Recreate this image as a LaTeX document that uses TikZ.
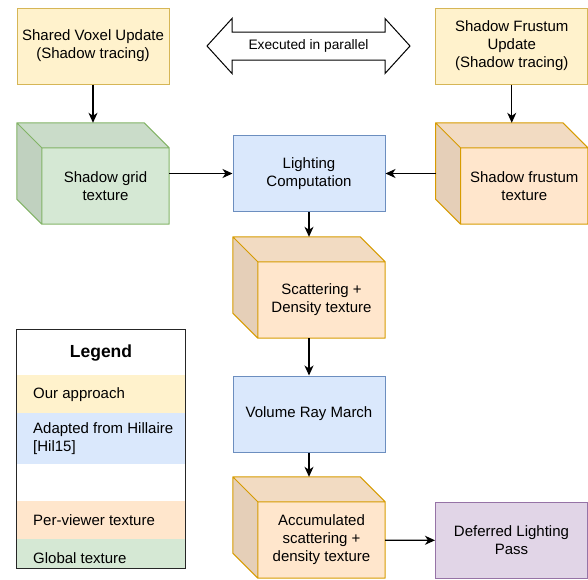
\documentclass[tikz,border=0pt]{standalone}
\usepackage{fontspec}
\setmainfont{Liberation Sans}
\usetikzlibrary{arrows.meta,positioning,calc}
\definecolor{ourfill}{HTML}{FFF2CC}
\definecolor{ourdraw}{HTML}{D6B656}
\definecolor{adaptfill}{HTML}{DAE8FC}
\definecolor{adaptdraw}{HTML}{6C8EBF}
\definecolor{viewfill}{HTML}{FFE6CC}
\definecolor{viewdraw}{HTML}{D79B00}
\definecolor{globfill}{HTML}{D5E8D4}
\definecolor{globdraw}{HTML}{82B366}
\definecolor{passfill}{HTML}{E1D5E7}
\definecolor{passdraw}{HTML}{9673A6}
\newcommand{\diafont}{\fontsize{15}{18}\selectfont}
% shaded faces and outline of a texture cube (node name, fill, stroke)
\newcommand{\texcube}[3]{%
  \fill[#2!95!black] (#1.north west) -- ([xshift=-25pt]#1.north east) -- ([yshift=-25pt]#1.north east) -- ([shift={(25pt,-25pt)}]#1.north west) -- cycle;
  \fill[#2!90!black] (#1.north west) -- ([shift={(25pt,-25pt)}]#1.north west) -- ([xshift=25pt]#1.south west) -- ([yshift=25pt]#1.south west) -- cycle;
  \fill[#2] ([shift={(25pt,-25pt)}]#1.north west) rectangle (#1.south east);
  \draw[#3,line width=1pt,line join=round] (#1.north west) -- ([xshift=-25pt]#1.north east) -- ([yshift=-25pt]#1.north east) -- (#1.south east) -- ([xshift=25pt]#1.south west) -- ([yshift=25pt]#1.south west) -- cycle
    (#1.north west) -- ([shift={(25pt,-25pt)}]#1.north west) -- ([yshift=-25pt]#1.north east)
    ([shift={(25pt,-25pt)}]#1.north west) -- ([xshift=25pt]#1.south west);}
\tikzset{
  flow/.style={-{Stealth[length=10pt,width=9pt,inset=3pt]},line width=1.2pt},
  box/.style={rectangle,line width=1pt,minimum width=152pt,minimum height=76pt,inner sep=2pt,align=center,font=\diafont},
  ours/.style={box,draw=ourdraw,fill=ourfill},
  adapted/.style={box,draw=adaptdraw,fill=adaptfill},
  lastpass/.style={box,draw=passdraw,fill=passfill},
  cubebody/.style={rectangle,minimum width=152pt,minimum height=101pt,inner sep=0pt},
  cubefront/.style={rectangle,minimum width=127pt,minimum height=76pt,inner sep=2pt,align=center,font=\diafont},
  legendrow/.style={rectangle,anchor=north west,minimum width=168pt,minimum height=38pt,inner sep=0pt,fill=#1},
  legendtext/.style={align=left,inner sep=0pt,font=\diafont},
}

\begin{document}
\begin{tikzpicture}[x=1pt,y=-1pt]
  \path[use as bounding box] (0,0) rectangle (588,579);
  % stages
  \node[ours] (voxel) at (93,46) {Shared Voxel Update\\(Shadow tracing)};
  \node[ours] (frustupd) at (511.75,46) {Shadow Frustum\\Update\\(Shadow tracing)};
  \draw[line width=1pt,line join=miter] (207,46) -- (232,18.5) -- (232,32) -- (385,32) -- (385,18.5) -- (410,46) -- (385,73.5) -- (385,60) -- (232,60) -- (232,73.5) -- cycle;
  \node[font=\fontsize{13.75}{16}\selectfont] (parallel) at (308.5,45.5) {Executed in parallel};
  \node[adapted] (light) at (309,173.5) {Lighting\\Computation};
  \node[adapted] (march) at (309,414) {Volume Ray March};
  \node[lastpass] (deferred) at (511.5,540.5) {Deferred Lighting\\Pass};
  % textures
  \node[cubebody] (grid) at (93,173.5) {};
  \texcube{grid}{globfill}{globdraw}
  \node[cubefront] (gridf) at ([shift={(12.5pt,-12.5pt)}]grid.center) {Shadow grid\\texture};
  \node[cubebody] (frust) at (511.75,173.5) {};
  \texcube{frust}{viewfill}{viewdraw}
  \node[cubefront] (frustf) at ([shift={(12.5pt,-12.5pt)}]frust.center) {Shadow frustum\\texture};
  \node[cubebody] (scatter) at (309,287.5) {};
  \texcube{scatter}{viewfill}{viewdraw}
  \node[cubefront] (scatterf) at ([shift={(12.5pt,-12.5pt)}]scatter.center) {Scattering +\\Density texture};
  \node[cubebody] (accum) at (309,527.5) {};
  \texcube{accum}{viewfill}{viewdraw}
  \node[cubefront] (accumf) at ([shift={(12.5pt,-12.5pt)}]accum.center) {Accumulated\\scattering +\\density texture};
  % connectors
  \draw[flow] (voxel) -- (grid);
  \draw[flow] (frustupd) -- (frust);
  \draw[flow] (grid) -- (light);
  \draw[flow] (frust) -- (light);
  \draw[flow] (light) -- (scatter);
  \draw[flow] (scatter) -- (march);
  \draw[flow] (march) -- (accum);
  \draw[flow] (accumf) -- (deferred);
  % legend
  \node[rectangle,minimum width=168pt,minimum height=238pt,inner sep=0pt] (legend) at (101,449) {};
  \node[font=\bfseries\fontsize{17.5}{21}\selectfont] (legtitle) at (101,353) {Legend};
  \begin{scope}
    \clip (legend.north west) rectangle (legend.south east);
    \node[legendrow=ourfill] (rowours) at (17,375) {};
    \node[legendrow=adaptfill,minimum height=51pt] (rowadapt) at (17,413) {};
    \node[legendrow=viewfill] (rowview) at (17,501) {};
    \node[legendrow=globfill] (rowglob) at (17,539) {};
  \end{scope}
  \node[legendtext,right=16pt of rowours.west,anchor=west] (txtours) {Our approach};
  \node[legendtext,right=16pt of rowadapt.west,anchor=west] (txtadapt) {Adapted from Hillaire\\{[Hil15]}};
  \node[legendtext,right=16pt of rowview.west,anchor=west] (txtview) {Per-viewer texture};
  \node[legendtext,right=16pt of rowglob.west,anchor=west] (txtglob) {Global texture};
  \draw[black!85,line width=1pt] (legend.north west) rectangle (legend.south east);
\end{tikzpicture}
\end{document}
